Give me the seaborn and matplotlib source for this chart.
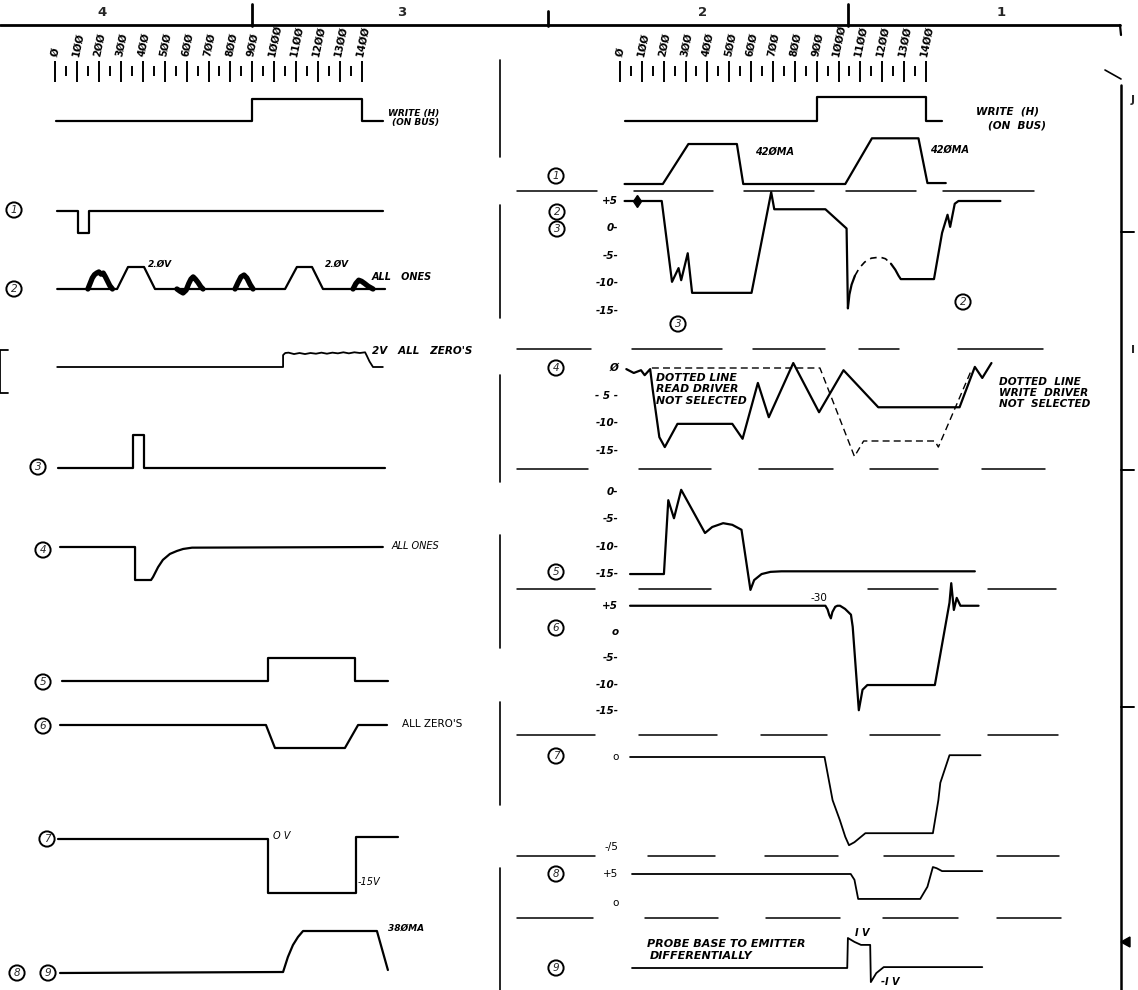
import matplotlib
matplotlib.use("Agg")
import matplotlib.pyplot as plt
import seaborn as sns

sns.set_theme(style="white")
plt.rcParams['font.family'] = ['DejaVu Sans']

W, H = 1138, 990

# ---- ruler (ns) ----
ruler_ticks = list(range(0, 1401, 50))
ruler_major = list(range(0, 1401, 100))
ruler_labels = ["Ø", "1ØØ", "2ØØ", "3ØØ", "4ØØ", "5ØØ", "6ØØ", "7ØØ", "8ØØ",
                "9ØØ", "1ØØØ", "11ØØ", "12ØØ", "13ØØ", "14ØØ"]
zone_labels = ["4", "3", "2", "1"]

# ---- left column waveforms (time ns, level) ----
lw_t = [5, 900, 900, 1400, 1400, 1495]
lw_v = [0, 0, 1, 1, 0, 0]

l1_t = [10, 105, 105, 155, 155, 1495]
l1_v = [0, 0, -1, -1, 0, 0]

l2_t = [10, 283, 333, 406, 456, 1049, 1103, 1172, 1222, 1505]
l2_v = [0, 0, 2.0, 2.0, 0, 0, 2.0, 2.0, 0, 0]
l2_noise_t = [[150, 160, 170, 180, 190, 200, 210, 220, 230, 240, 250, 262],
              [556, 570, 584, 598, 610, 620, 630, 640, 652, 665, 675],
              [821, 835, 848, 862, 875, 890, 903],
              [1359, 1372, 1385, 1398, 1412, 1428, 1450]]
l2_noise_v = [[0, 0.5, 1.0, 1.3, 1.45, 1.55, 1.35, 1.45, 1.1, 0.7, 0.3, 0],
              [0, -0.2, -0.36, -0.1, 0.5, 0.9, 1.1, 0.9, 0.6, 0.2, 0],
              [0, 0.6, 1.1, 1.27, 1.0, 0.4, 0],
              [0, 0.5, 0.8, 0.7, 0.5, 0.25, 0]]

lz_t = [10, 1040, 1040, 1050, 1065, 1090, 1115, 1140, 1165, 1190, 1215, 1240,
        1265, 1290, 1315, 1340, 1365, 1390, 1414, 1422, 1428, 1434, 1440, 1450, 1495]
lz_v = [0, 0, 1.7, 2.0, 2.05, 1.85, 2.0, 1.85, 2.0, 1.9, 2.05, 1.9,
        2.05, 1.95, 2.1, 1.95, 2.1, 2.0, 2.1, 1.6, 1.2, 0.8, 0.5, 0, 0]

l3_t = [14, 356, 356, 406, 406, 1505]
l3_v = [0, 0, 1, 1, 0, 0]

l4_t = [23, 365, 365, 438, 447, 470, 492, 524, 556, 584, 625, 1495]
l4_v = [0, 0, -1, -1, -0.91, -0.61, -0.39, -0.21, -0.12, -0.06, -0.02, 0]

l5_t = [32, 971, 971, 1368, 1368, 1518]
l5_v = [0, 0, 1, 1, 0, 0]

l6_t = [23, 962, 1003, 1322, 1382, 1514]
l6_v = [0, 0, -1, -1, 0, 0]

l7_t = [14, 971, 971, 1373, 1373, 1564]
l7_v = [0, 0, -15, -15, 0.5, 0.5]

l89_t = [23, 1040, 1062, 1085, 1108, 1131, 1468, 1518]
l89_v = [0, 9, 145, 253, 326, 380, 380, 27]

# ---- right column waveforms ----
rw_t = [21, 900, 900, 1400, 1400, 1474]
rw_v = [0, 0, 1, 1, 0, 0]

r1_t = [21, 196, 313, 535, 564, 1031, 1153, 1366, 1407, 1491]
r1_v = [0, 0, 420, 420, 0, 0, 480, 480, 10, 10]

r3_t = [21, 191, 238, 268, 280, 310, 330, 602, 692, 706, 940, 1037, 1043]
r3_v = [5, 5, -9.7, -7.2, -9.4, -4.5, -11.7, -11.7, 6.6, 3.5, 3.5, 0, -14.5]
r2_t = [1043, 1050, 1060, 1075, 1095, 1120, 1150, 1190, 1215, 1240, 1260, 1275, 1285,
        1437, 1474, 1499, 1511, 1532, 1549, 1741]
r2_v = [-14.5, -12.0, -10.2, -8.6, -7.2, -6.1, -5.4, -5.2, -5.5, -6.4, -7.5, -8.6, -9.2,
        -9.2, -0.8, 2.5, 0.3, 4.5, 5.0, 5.0]
r23_ticks = [5, 0, -5, -10, -15]
r23_labels = ["+5", "0-", "-5-", "-10-", "-15-"]

r4_t = [29, 63, 96, 113, 138, 150, 180, 205, 263, 514, 561, 631, 681, 793, 911,
        1023, 1182, 1554, 1624, 1658, 1700]
r4_v = [-0.2, -0.9, -0.4, -1.3, -0.2, -4, -12.5, -14.3, -10.1, -10.1, -12.8, -2.7,
        -8.9, 0.9, -8.0, -0.4, -7.1, -7.1, 0.2, -1.8, 0.9]
r4d_t = [146, 915, 1073, 1115, 1441, 1457, 1608]
r4d_v = [0, 0, -16, -13.2, -13.2, -14.3, -0.4]
r4_ticks = [0, -5, -10, -15]
r4_labels = ["Ø", "- 5 -", "-10-", "-15-"]

r5_t = [46, 201, 221, 247, 280, 389, 422, 472, 514, 556, 597, 614, 648, 689, 739, 1624]
r5_v = [-15, -15, -1.5, -4.8, 0.4, -7.5, -6.4, -5.7, -6.0, -6.9, -17.9, -16.1, -15.0,
        -14.6, -14.5, -14.5]
r5_ticks = [0, -5, -10, -15]
r5_labels = ["0-", "-5-", "-10-", "-15-"]

r6_t = [46, 940, 950, 958, 965, 972, 985, 995, 1007, 1030, 1057, 1065, 1093, 1110,
        1132, 1441, 1508, 1516, 1528, 1541, 1558, 1641]
r6_v = [5, 5, 4.3, 3.2, 2.6, 3.8, 4.8, 5.0, 5.0, 4.4, 3.3, 1.0, -14.9, -11.0,
        -10.1, -10.1, 5.6, 9.3, 4.2, 6.5, 5.0, 5.0]
r6_ticks = [5, 0, -5, -10, -15]
r6_labels = ["+5", "o", "-5-", "-10-", "-15-"]

r7_t = [46, 936, 973, 1006, 1031, 1048, 1073, 1123, 1432, 1457, 1466, 1508, 1650]
r7_v = [0, 0, -7.2, -10.5, -13.3, -14.7, -14.2, -12.7, -12.7, -7.2, -4.3, 0.3, 0.3]
r7_ticks = [0, -15]
r7_labels = ["o", "-/5"]

r8_t = [55, 1056, 1073, 1090, 1374, 1407, 1432, 1449, 1474, 1658]
r8_v = [5, 5, 4, 0.7, 0.7, 2.8, 6.2, 6.0, 5.5, 5.5]
r8_ticks = [5, 0]
r8_labels = ["+5", "o"]

r9_t = [55, 1040, 1043, 1073, 1103, 1145, 1148, 1173, 1207, 1658]
r9_v = [0, 0, 1.0, 0.87, 0.77, 0.77, -0.47, -0.17, 0.03, 0.03]

# ---- layout (pixels) ----
PANEL = {"L": (55, 0.2193), "R": (620, 0.2185)}   # x of 0 ns, px per ns
# row: panel, pixel row of level 0, px per unit
ROWS = {
    "lw": ("L", 121, 22), "l1": ("L", 211, 22), "l2": ("L", 289, 11),
    "lz": ("L", 367, 7), "l3": ("L", 468, 33), "l4": ("L", 547, 33),
    "l5": ("L", 681, 23), "l6": ("L", 725, 23), "l7": ("L", 839, 3.6),
    "l89": ("L", 973, 0.1105),
    "rw": ("R", 121, 24), "r1": ("R", 184, 0.0952), "r23": ("R", 228.5, 5.5),
    "r4": ("R", 368, 5.53), "r5": ("R", 492, 5.47), "r6": ("R", 632, 5.25),
    "r7": ("R", 757, 6.0), "r8": ("R", 903, 5.8), "r9": ("R", 968, 30),
}

fig = plt.figure(figsize=(W / 100, H / 100), dpi=100)
fig.patch.set_facecolor("white")

page = fig.add_axes([0, 0, 1, 1])
page.set_xlim(0, W)
page.set_ylim(H, 0)
page.axis("off")


def xlim_of(p):
    x0, s = PANEL[p]
    return (-x0 / s, (W - x0) / s)


def row_ax(name):
    p, y0, ppu = ROWS[name]
    ax = fig.add_axes([0, 0, 1, 1])
    ax.set_xlim(xlim_of(p))
    ax.set_ylim(-(H - y0) / ppu, y0 / ppu)
    ax.axis("off")
    ax.patch.set_alpha(0)
    return ax


def trace(ax, t, v, lw=1.6, ls="-"):
    sns.lineplot(x=t, y=v, ax=ax, color="black", lw=lw, linestyle=ls,
                 sort=False, estimator=None, legend=False)


def scale_labels(ax, ticks, labels, **kw):
    for v, lab in zip(ticks, labels):
        ax.text(-8, v, lab, ha="right", va="center", fontsize=7.5, color="black", **kw)


ital = dict(style="oblique", weight="bold", color="black")

# ---- rulers ----
for p in ["L", "R"]:
    ax = fig.add_axes([0, 0, 1, 1])
    ax.set_xlim(xlim_of(p))
    ax.set_ylim(H, 0)
    ax.axis("off")
    ax.patch.set_alpha(0)
    minor = [t for t in ruler_ticks if t not in ruler_major]
    ax.vlines(ruler_major, 61, 82, color="black", lw=1.4)
    ax.vlines(minor, 66, 76, color="black", lw=1.4)
    for t, lab in zip(ruler_major, ruler_labels):
        ax.text(t + 4, 57, lab, rotation=78, ha="center", va="bottom",
                fontsize=7.2, weight="bold", color="black")

# ---- waveforms ----
trace(row_ax("lw"), lw_t, lw_v)
trace(row_ax("l1"), l1_t, l1_v)
ax = row_ax("l2")
trace(ax, l2_t, l2_v)
for nt, nv in zip(l2_noise_t, l2_noise_v):
    trace(ax, nt, nv, lw=3.8)
trace(row_ax("lz"), lz_t, lz_v, lw=1.3)
trace(row_ax("l3"), l3_t, l3_v)
trace(row_ax("l4"), l4_t, l4_v)
trace(row_ax("l5"), l5_t, l5_v)
trace(row_ax("l6"), l6_t, l6_v)
trace(row_ax("l7"), l7_t, l7_v)
trace(row_ax("l89"), l89_t, l89_v)

trace(row_ax("rw"), rw_t, rw_v)
trace(row_ax("r1"), r1_t, r1_v)
ax = row_ax("r23")
trace(ax, r3_t, r3_v)
trace(ax, r2_t[:4], r2_v[:4])
trace(ax, r2_t[3:10], r2_v[3:10], lw=1.2, ls=(0, (4, 3)))
trace(ax, r2_t[9:], r2_v[9:])
ax.plot([80], [5], marker="d", ms=6, color="black")
scale_labels(ax, r23_ticks, r23_labels, style="oblique", weight="bold")

ax = row_ax("r4")
trace(ax, r4_t, r4_v)
trace(ax, r4d_t, r4d_v, lw=1.0, ls=(0, (5, 3)))
scale_labels(ax, r4_ticks, r4_labels, style="oblique", weight="bold")

ax = row_ax("r5")
trace(ax, r5_t, r5_v)
scale_labels(ax, r5_ticks, r5_labels, style="oblique", weight="bold")

ax = row_ax("r6")
trace(ax, r6_t, r6_v)
scale_labels(ax, r6_ticks, r6_labels, style="oblique", weight="bold")

ax = row_ax("r7")
trace(ax, r7_t, r7_v, lw=1.3)
scale_labels(ax, r7_ticks, r7_labels)

ax = row_ax("r8")
trace(ax, r8_t, r8_v, lw=1.3)
scale_labels(ax, r8_ticks, r8_labels)

trace(row_ax("r9"), r9_t, r9_v, lw=1.3)

# ---- frame / decorations ----
page.plot([0, 1120], [25, 25], color="black", lw=2)
for x, ya, yb in [(252, 4, 26), (548, 11, 26), (848, 4, 26)]:
    page.plot([x, x], [ya, yb], color="black", lw=2)
for x, lab in zip([102, 402, 703, 1001], zone_labels):
    page.text(x, 13, lab, ha="center", va="center", fontsize=9.5, weight="bold")
page.plot([1120, 1121], [25, 35], color="black", lw=1.6)
page.plot([1105, 1121], [70, 79], color="black", lw=1.2)
page.plot([1121, 1121], [85, 990], color="black", lw=1.8)
for y in [232, 470, 707]:
    page.plot([1121, 1134], [y, y], color="black", lw=1.4)
page.fill([1121, 1130, 1130], [942, 937, 947], color="black")
page.text(1131, 100, "J", fontsize=8, weight="bold", ha="left", va="center")
page.text(1131, 350, "I", fontsize=8, weight="bold", ha="left", va="center")

for ya, yb in [(60, 157), (205, 318), (375, 482), (535, 648), (702, 805), (868, 990)]:
    page.plot([500, 500], [ya, yb], color="black", lw=1.2)
page.plot([8, 0, 0, 8], [350, 350, 393, 393], color="black", lw=1.3)

seps = {191: [(517, 597), (634, 713), (744, 814), (846, 916), (943, 1034)],
        349: [(517, 591), (632, 722), (753, 825), (859, 899), (958, 1043)],
        469: [(517, 588), (639, 711), (759, 833), (870, 938), (982, 1045)],
        589: [(517, 595), (639, 711), (868, 938), (988, 1056)],
        735: [(517, 595), (639, 717), (761, 827), (870, 940), (988, 1058)],
        856: [(517, 595), (648, 715), (765, 838), (884, 954), (997, 1059)],
        918: [(517, 593), (645, 718), (766, 840), (883, 958), (997, 1061)]}
for y, segs in seps.items():
    for xa, xb in segs:
        page.plot([xa, xb], [y, y], color="black", lw=1.1)

# circled numbers
circ = [(14, 210, "1"), (14, 289, "2"), (38, 467, "3"), (43, 550, "4"),
        (43, 682, "5"), (43, 726, "6"), (47, 839, "7"), (17, 973, "8"),
        (48, 973, "9"),
        (556, 176, "1"), (557, 212, "2"), (557, 229, "3"), (556, 368, "4"),
        (556, 572, "5"), (556, 628, "6"), (556, 756, "7"), (556, 874, "8"),
        (556, 968, "9"), (678, 324, "3"), (963, 302, "2")]
for x, y, lab in circ:
    page.text(x, y, lab, ha="center", va="center", fontsize=7.5, style="oblique",
              bbox=dict(boxstyle="circle,pad=0.25", fc="white", ec="black", lw=1.4))

# annotations
page.text(388, 116, "WRITE (H)", fontsize=6.5, **ital)
page.text(392, 125, "(ON BUS)", fontsize=6.5, **ital)
page.text(148, 267, "2.ØV", fontsize=6.5, **ital)
page.text(325, 267, "2.ØV", fontsize=6.5, **ital)
page.text(372, 280, "ALL   ONES", fontsize=7, **ital)
page.text(372, 354, "2V   ALL   ZERO'S", fontsize=7.5, **ital)
page.text(392, 549, "ALL ONES", fontsize=7, style="oblique", color="black")
page.text(402, 727, "ALL ZERO'S", fontsize=7.5, color="black")
page.text(273, 839, "O V", fontsize=7, style="oblique", color="black")
page.text(358, 885, "-15V", fontsize=7, style="oblique", color="black")
page.text(388, 931, "38ØMA", fontsize=6.5, **ital)

page.text(976, 115, "WRITE  (H)", fontsize=7.5, **ital)
page.text(988, 128, "(ON  BUS)", fontsize=7.5, **ital)
page.text(755, 155, "42ØMA", fontsize=7, **ital)
page.text(930, 153, "42ØMA", fontsize=7, **ital)
for i, s in enumerate(["DOTTED LINE", "READ DRIVER", "NOT SELECTED"]):
    page.text(656, 381 + 11.5 * i, s, fontsize=7.8, **ital)
for i, s in enumerate(["DOTTED  LINE", "WRITE  DRIVER", "NOT  SELECTED"]):
    page.text(999, 385 + 11 * i, s, fontsize=7.6, **ital)
page.text(811, 601, "-30", fontsize=7.5, color="black")
page.text(647, 947, "PROBE BASE TO EMITTER", fontsize=8, **ital)
page.text(650, 959, "DIFFERENTIALLY", fontsize=8, **ital)
page.text(855, 936, "I V", fontsize=7, **ital)
page.text(881, 985, "-I V", fontsize=7, **ital)

fig.savefig("out.png", dpi=100, facecolor="white")
